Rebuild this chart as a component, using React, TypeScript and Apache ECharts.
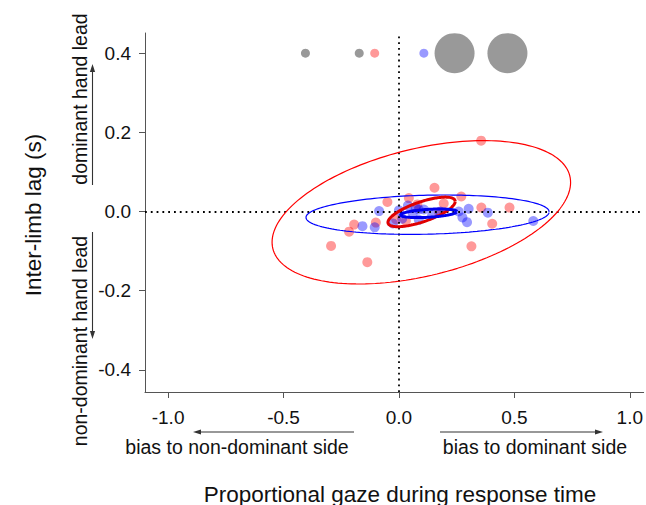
import React, { useEffect, useRef } from "react";
import * as echarts from "echarts";

const xTicks = [-1.0, -0.5, 0.0, 0.5, 1.0];
const yTicks = [-0.4, -0.2, 0.0, 0.2, 0.4];

const redX = [0.356, 0.154, 0.270, 0.043, -0.050, 0.194, 0.357, 0.479, 0.404, 0.314, -0.194, -0.100, -0.216, -0.294, -0.137, -0.012, 0.174, 0.030, 0.080];
const redY = [0.179, 0.060, 0.038, 0.034, 0.024, 0.020, 0.010, 0.010, -0.031, -0.088, -0.033, -0.028, -0.051, -0.087, -0.128, -0.020, -0.002, -0.024, 0.018];

const blueX = [-0.086, -0.158, -0.105, -0.026, 0.000, 0.039, 0.072, 0.014, 0.086, 0.108, 0.086, 0.144, 0.179, 0.259, 0.302, 0.275, 0.295, 0.385, 0.582, 0.060];
const blueY = [0.001, -0.037, -0.040, -0.030, 0.003, 0.015, 0.011, -0.018, 0.005, 0.005, -0.021, -0.008, 0.000, 0.000, 0.007, -0.015, -0.027, -0.003, -0.024, -0.005];

const topX = [-0.405, -0.172, -0.105, 0.108, 0.241, 0.470];
const topY = [0.4, 0.4, 0.4, 0.4, 0.4, 0.4];
const topKind = ["gray", "gray", "red", "blue", "big", "big"];

// ellipse parameters: centre, variances and covariance
const ellCx = [0.097, 0.124, 0.098, 0.129];
const ellCy = [-0.002, -0.008, -0.001, -0.0045];
const ellSxx = [0.418, 0.2774, 0.02122, 0.01488];
const ellSyy = [0.0328, 0.002474, 0.001397, 0.000118];
const ellSxy = [0.0488, 0.003723, 0.003853, 0.000523];
const ellColor = ["#ff0000", "#0000ff", "#e00000", "#0000ee"];
const ellWidth = [1.2, 1.2, 3, 3];

const FONT = "'Liberation Sans', Arial, sans-serif";

function ellipsePoints(i: number): number[][] {
  const l11 = Math.sqrt(ellSxx[i]);
  const l21 = ellSxy[i] / l11;
  const l22 = Math.sqrt(ellSyy[i] - l21 * l21);
  const pts: number[][] = [];
  const n = 180;
  for (let k = 0; k <= n; k++) {
    const t = (2 * Math.PI * k) / n;
    pts.push([ellCx[i] + l11 * Math.cos(t), ellCy[i] + l21 * Math.cos(t) + l22 * Math.sin(t)]);
  }
  return pts;
}

function arrow(x1: number, y1: number, x2: number, y2: number): any[] {
  const dx = x2 - x1;
  const dy = y2 - y1;
  const len = Math.sqrt(dx * dx + dy * dy);
  const ux = dx / len;
  const uy = dy / len;
  const hl = 8;
  const hw = 2.6;
  const bx = x2 - ux * hl;
  const by = y2 - uy * hl;
  return [
    { type: "line", shape: { x1, y1, x2: bx, y2: by }, style: { stroke: "#333", lineWidth: 1.1 } },
    {
      type: "polygon",
      shape: { points: [[x2, y2], [bx - uy * hw, by + ux * hw], [bx + uy * hw, by - ux * hw]] },
      style: { fill: "#333" },
    },
  ];
}

export default function App() {
  const ref = useRef<HTMLDivElement>(null);
  useEffect(() => {
    if (!ref.current) return;
    const chart = echarts.init(ref.current, null, { renderer: "svg" });
    const kindColor: Record<string, string> = {
      gray: "rgba(0,0,0,0.5)",
      big: "rgba(0,0,0,0.5)",
      red: "rgba(255,0,0,0.5)",
      blue: "rgba(0,0,255,0.5)",
    };
    const topData = topX.map((x, i) => ({
      value: [x, topY[i]],
      symbolSize: topKind[i] === "big" ? 40 : 9,
      itemStyle: { color: kindColor[topKind[i]] },
    }));
    const ellSeries = ellCx.map((_, i) => ({
      type: "line",
      data: ellipsePoints(i),
      showSymbol: false,
      smooth: false,
      silent: true,
      z: 5,
      lineStyle: { color: ellColor[i], width: ellWidth[i] },
    }));
    const axisLineStyle = { color: "#555", width: 1 };
    const option: any = {
      animation: false,
      grid: { left: 145, right: 0, top: 33, bottom: 113 },
      xAxis: {
        type: "value",
        min: -1.1,
        max: 1.06,
        axisLine: { show: true, onZero: false, lineStyle: axisLineStyle },
        axisTick: { show: true, customValues: xTicks, length: 6, lineStyle: axisLineStyle },
        axisLabel: {
          customValues: xTicks,
          formatter: (v: number) => v.toFixed(1),
          margin: 16,
          fontSize: 19,
          fontFamily: FONT,
          color: "#111",
        },
        splitLine: { show: false },
      },
      yAxis: {
        type: "value",
        min: -0.456,
        max: 0.451,
        axisLine: { show: true, onZero: false, lineStyle: axisLineStyle },
        axisTick: { show: true, customValues: yTicks, length: 6, lineStyle: axisLineStyle },
        axisLabel: {
          customValues: yTicks,
          formatter: (v: number) => v.toFixed(1),
          margin: 14,
          fontSize: 19,
          fontFamily: FONT,
          color: "#111",
        },
        splitLine: { show: false },
      },
      series: [
        {
          type: "scatter",
          data: redX.map((x, i) => [x, redY[i]]),
          symbolSize: 10,
          itemStyle: { color: "rgba(255,0,0,0.5)" },
          z: 3,
          markLine: {
            silent: true,
            symbol: "none",
            label: { show: false },
            lineStyle: { color: "#000", width: 1.8, type: [1.8, 4] },
            data: [{ xAxis: 0 }, { yAxis: 0 }],
          },
        },
        {
          type: "scatter",
          data: blueX.map((x, i) => [x, blueY[i]]),
          symbolSize: 10,
          itemStyle: { color: "rgba(0,0,255,0.5)" },
          z: 4,
        },
        {
          type: "scatter",
          data: topData,
          z: 4,
        },
        ...ellSeries,
      ],
      graphic: [
        {
          type: "text",
          x: 33,
          y: 215,
          rotation: Math.PI / 2,
          style: { text: "Inter-limb lag (s)", font: `22.5px ${FONT}`, fill: "#111", align: "center", verticalAlign: "middle" },
        },
        {
          type: "text",
          x: 80,
          y: 99,
          rotation: Math.PI / 2,
          style: { text: "dominant hand lead", font: `19.5px ${FONT}`, fill: "#111", align: "center", verticalAlign: "middle" },
        },
        {
          type: "text",
          x: 80,
          y: 341,
          rotation: Math.PI / 2,
          style: { text: "non-dominant hand lead", font: `19.5px ${FONT}`, fill: "#111", align: "center", verticalAlign: "middle" },
        },
        {
          type: "text",
          x: 400,
          y: 494,
          style: { text: "Proportional gaze during response time", font: `22.5px ${FONT}`, fill: "#111", align: "center", verticalAlign: "middle" },
        },
        {
          type: "text",
          x: 237,
          y: 447,
          style: { text: "bias to non-dominant side", font: `19.5px ${FONT}`, fill: "#111", align: "center", verticalAlign: "middle" },
        },
        {
          type: "text",
          x: 535,
          y: 447,
          style: { text: "bias to dominant side", font: `19.5px ${FONT}`, fill: "#111", align: "center", verticalAlign: "middle" },
        },
        ...arrow(354, 432, 193, 432),
        ...arrow(440, 432, 603, 432),
        ...arrow(92.5, 185, 92.5, 64),
        ...arrow(92.5, 232, 92.5, 339),
      ],
    };
    chart.setOption(option);
    return () => chart.dispose();
  }, []);
  return (
    <div
      ref={ref}
      style={{ position: "fixed", left: 0, top: 0, width: 646, height: 505, background: "#fff" }}
    />
  );
}
